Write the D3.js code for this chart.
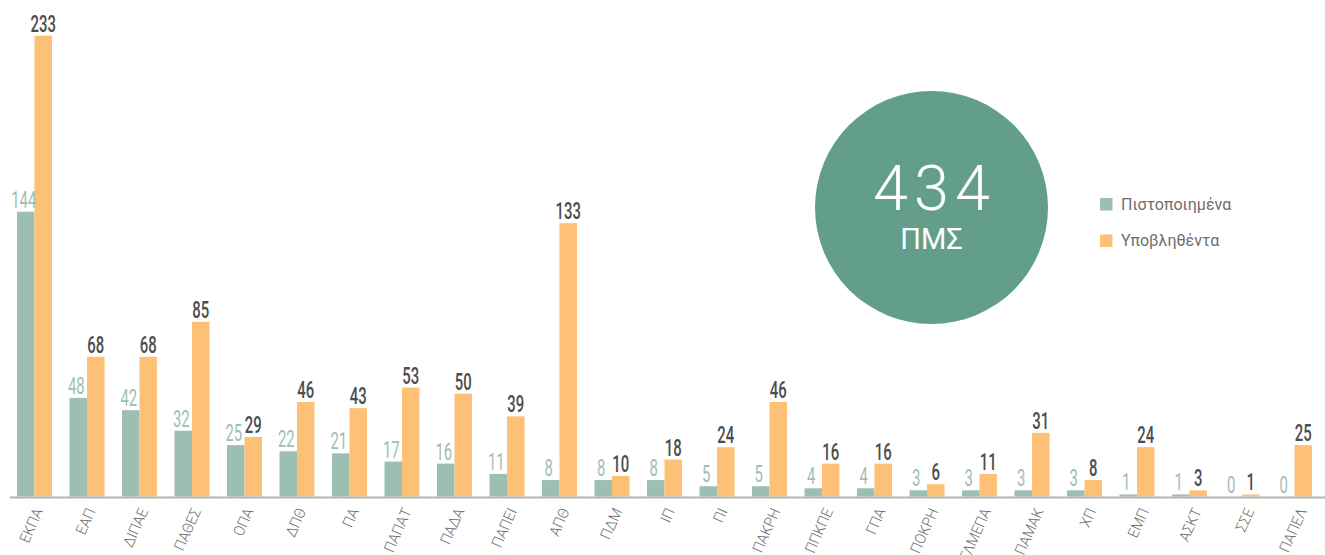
<!DOCTYPE html>
<html>
<head>
<meta charset="utf-8">
<script src="https://cdn.jsdelivr.net/npm/d3@7"></script>
<style>
  html, body { margin: 0; padding: 0; background: #ffffff; }
  svg { display: block; }
</style>
</head>
<body>
<svg id="chart" width="1325" height="555"></svg>
<script>
const categories = ["ΕΚΠΑ","ΕΑΠ","ΔΙΠΑΕ","ΠΑΘΕΣ","ΟΠΑ","ΔΠΘ","ΠΑ","ΠΑΠΑΤ","ΠΑΔΑ","ΠΑΠΕΙ","ΑΠΘ","ΠΔΜ","ΙΠ","ΠΙ","ΠΑΚΡΗ","ΠΠΚΠΕ","ΓΠΑ","ΠΟΚΡΗ","ΓΛΜΕΠΑ","ΠΑΜΑΚ","ΧΠ","ΕΜΠ","ΑΣΚΤ","ΣΣΕ","ΠΑΠΕΛ"];
const certified = [144,48,42,32,25,22,21,17,16,11,8,8,8,5,5,4,4,3,3,3,3,1,1,0,0];
const submitted = [233,68,68,85,29,46,43,53,50,39,133,10,18,24,46,16,16,6,11,31,8,24,3,1,25];
const seriesNames = ["Πιστοποιημένα","Υποβληθέντα"];
const totalLabel = "434";
const totalSub = "ΠΜΣ";

const colGreen = "#9dbfb1", colOrange = "#fcc177", colCircle = "#639e8a";

const svg = d3.select("#chart");
const baseY = 496.5;

const x = d3.scaleBand().domain(categories).range([17, 17 + 24*52.5 + 35]).paddingInner(1 - 35/52.5).paddingOuter(0);
const xs = d3.scaleBand().domain([0,1]).range([0, x.bandwidth()]);
const xLabel = d3.scalePoint().domain(categories).range([38, 1302]);
// main value scale; the tallest group (ΕΚΠΑ) is compressed to fit the frame, as in the original
const y = d3.scaleLinear().domain([0, 233]).range([baseY, baseY - 233*2.055]);
const yFirst = d3.scaleLinear().domain([0, 233]).range([baseY, 35.7]);

const rows = categories.map((c,i) => ({c, i, v:[certified[i], submitted[i]]}));

const g = svg.append("g");
const grp = g.selectAll("g.grp").data(rows).join("g").attr("class","grp")
  .attr("transform", d => `translate(${x(d.c)},0)`);

const cells = d => d.v.map((v,k)=>({v,k,ys: d.i === 0 ? yFirst : y}));

grp.selectAll("rect").data(cells).join("rect")
  .attr("x", d => xs(d.k)).attr("width", xs.bandwidth())
  .attr("y", d => d.ys(d.v)).attr("height", d => baseY - d.ys(d.v))
  .attr("fill", d => d.k === 0 ? colGreen : colOrange);

grp.selectAll("text.val").data(cells).join("text")
  .attr("class","val")
  .attr("transform", d => `translate(${xs(d.k) + xs.bandwidth()/2 + (d.k===0?-2:0)},${d.ys(d.v) - 4}) scale(0.62,1)`)
  .attr("text-anchor","middle")
  .attr("font-family","Roboto, sans-serif")
  .attr("font-size", 24)
  .attr("font-weight", d => d.k === 0 ? 400 : 500)
  .attr("fill", d => d.k === 0 ? colGreen : "#4d4d4d")
  .text(d => d.v);

// axis line
svg.append("line").attr("x1", 10).attr("x2", 1325).attr("y1", baseY+1).attr("y2", baseY+1)
  .attr("stroke", "#b4b4b4").attr("stroke-width", 2);

// category labels
const axis = d3.axisBottom(xLabel).tickSize(0).tickPadding(0);
const ax = svg.append("g").attr("transform", `translate(0,${509})`).call(axis);
ax.select(".domain").remove();
ax.selectAll(".tick text")
  .attr("x", 0).attr("y", 0).attr("dy", null)
  .attr("text-anchor","end")
  .attr("dominant-baseline","central")
  .attr("font-family","Roboto, sans-serif")
  .attr("font-size", 15)
  .attr("font-weight", 300)
  .attr("fill", "#6e6e6e")
  .attr("transform", `rotate(-66) scale(0.95,1)`);

// circle
svg.append("circle").attr("cx", 931.5).attr("cy", 207.5).attr("r", 116.5).attr("fill", colCircle);
svg.append("text").attr("x", 931.5 + 3).attr("y", 210).attr("text-anchor","middle")
  .attr("font-family","Roboto, sans-serif").attr("font-weight",300).attr("font-size",63)
  .attr("letter-spacing", 6).attr("fill","#ffffff").text(totalLabel);
svg.append("text").attr("x", 931.5).attr("y", 249).attr("text-anchor","middle")
  .attr("font-family","Roboto, sans-serif").attr("font-weight",400).attr("font-size",29)
  .attr("fill","#ffffff").text(totalSub);

// legend
const leg = svg.append("g");
const legY = [204, 240.5];
seriesNames.forEach((n,i) => {
  leg.append("rect").attr("x",1100).attr("y",legY[i]-6).attr("width",12.5).attr("height",12.5)
    .attr("fill", i===0 ? colGreen : colOrange);
  leg.append("text").attr("x",1121).attr("y",legY[i]+5.5)
    .attr("font-family","Roboto, sans-serif").attr("font-size",16).attr("font-weight",400)
    .attr("fill","#6e6e6e").text(n);
});
</script>
</body>
</html>
